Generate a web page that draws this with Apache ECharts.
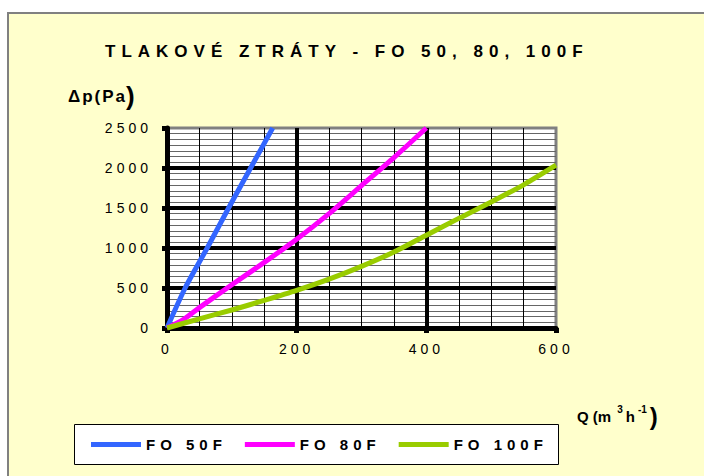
<!DOCTYPE html>
<html><head><meta charset="utf-8">
<script src="https://cdn.jsdelivr.net/npm/echarts@6/dist/echarts.min.js"></script>
<style>
html,body{margin:0;padding:0;background:#fff;}
#c{width:704px;height:476px;}
text[style*="ttlx"]{letter-spacing:6px;}
text[style*="tckx"]{letter-spacing:4px;}
text[style*="lgdx"]{letter-spacing:5px;}
text[style*="dpx"]{letter-spacing:2px;}
</style></head><body><div id="c"></div>
<script>
const titleText = 'TLAKOVÉ ZTRÁTY - FO 50, 80, 100F';
const seriesNames = ['FO 50F', 'FO 80F', 'FO 100F'];
const seriesColors = ['#3366FF', '#FF00FF', '#99CC00'];
const fo50Q = [0, 28, 62, 95, 129, 163];
const fo50Dp = [0, 500, 1000, 1500, 2000, 2500];
const fo80Q = [0, 25, 50, 100, 150, 200, 250, 300, 350, 400];
const fo80Dp = [0, 105, 255, 540, 820, 1110, 1430, 1780, 2130, 2500];
const fo100Q = [0, 50, 100, 150, 200, 250, 300, 350, 400, 450, 500, 550, 600];
const fo100Dp = [0, 115, 225, 345, 470, 610, 770, 950, 1160, 1370, 1575, 1790, 2035];
const xTicks = [0, 200, 400, 600];
const yTicks = [0, 500, 1000, 1500, 2000, 2500];

const pairs = (xs, ys) => xs.map((x, i) => [x, ys[i]]);
const seriesData = [pairs(fo50Q, fo50Dp), pairs(fo80Q, fo80Dp), pairs(fo100Q, fo100Dp)];

const chart = echarts.init(document.getElementById('c'), null, {renderer: 'svg'});
const tickFont = {fontFamily: 'Liberation Sans, tckx', fontSize: 14, color: '#000', formatter: v => String(v)};
const bold = 'Liberation Sans';

chart.setOption({
  animation: false,
  backgroundColor: '#fff',
  title: {
    text: titleText, left: 105, top: 43, padding: 0,
    textStyle: {fontFamily: 'Liberation Sans, ttlx', fontWeight: 'bold', fontSize: 17, color: '#000'}
  },
  grid: {
    left: 167, top: 128, width: 389, height: 200,
    show: true, backgroundColor: '#fff', borderColor: '#808080', borderWidth: 3
  },
  xAxis: {
    type: 'value', min: xTicks[0], max: xTicks[xTicks.length - 1], interval: xTicks[1] - xTicks[0],
    axisLine: {show: true, onZero: false, lineStyle: {color: '#000', width: 5}},
    axisTick: {show: true, length: 5, lineStyle: {color: '#000', width: 5}},
    axisLabel: Object.assign({margin: 14}, tickFont),
    splitLine: {show: true, showMinLine: false, showMaxLine: false, lineStyle: {color: '#000', width: 4}},
    minorTick: {show: false, splitNumber: 4},
    minorSplitLine: {show: true, lineStyle: {color: '#000', width: 1}}
  },
  yAxis: {
    type: 'value', min: yTicks[0], max: yTicks[yTicks.length - 1], interval: yTicks[1] - yTicks[0],
    axisLine: {show: true, onZero: false, lineStyle: {color: '#000', width: 5}},
    axisTick: {show: true, length: 5, lineStyle: {color: '#000', width: 5}},
    axisLabel: Object.assign({margin: 15}, tickFont),
    splitLine: {show: true, showMinLine: false, showMaxLine: false, lineStyle: {color: '#000', width: 4}},
    minorTick: {show: false, splitNumber: 7},
    minorSplitLine: {show: true, lineStyle: {color: '#666', width: 1}}
  },
  legend: {
    data: seriesNames, left: 91, top: 437, padding: 0, orient: 'horizontal',
    itemWidth: 50, itemHeight: 5, itemGap: 48, icon: 'rect',
    textStyle: {fontFamily: 'Liberation Sans, lgdx', fontWeight: 'bold', fontSize: 15, color: '#000'}
  },
  graphic: [
    {type: 'rect', z: -100, silent: true, shape: {x: 8, y: 13, width: 720, height: 480},
     style: {fill: '#FFFFCC', stroke: '#808080', lineWidth: 2}},
    {type: 'rect', z: 1, silent: true, shape: {x: 74.5, y: 424.5, width: 484, height: 40},
     style: {fill: '#fff', stroke: '#000', lineWidth: 1}},
    {type: 'text', z: 5, silent: true, x: 68, y: 96,
     style: {text: '{a|Δp(Pa}{b|)}', verticalAlign: 'middle', textVerticalAlign: 'middle', align: 'left',
       rich: {a: {fontFamily: bold + ', dpx', fontWeight: 'bold', fontSize: 17, fill: '#000', color: '#000'},
              b: {fontFamily: bold, fontWeight: 'bold', fontSize: 26, padding: [0, 0, 0, 9], fill: '#000', color: '#000'}}}},
    {type: 'text', z: 5, silent: true, x: 577, y: 416,
     style: {text: '{a|Q (m}{s|3}{h|h}{t|-1}{b|)}', verticalAlign: 'middle', textVerticalAlign: 'middle', align: 'left',
       rich: {a: {fontFamily: bold, fontWeight: 'bold', fontSize: 15, fill: '#000', color: '#000'},
              h: {fontFamily: bold, fontWeight: 'bold', fontSize: 15, padding: [0, 0, 0, 3], fill: '#000', color: '#000'},
              s: {fontFamily: bold, fontWeight: 'bold', fontSize: 10, lineHeight: 15, verticalAlign: 'top', padding: [0, 0, 0, 6], fill: '#000', color: '#000'},
              t: {fontFamily: bold, fontWeight: 'bold', fontSize: 10, lineHeight: 15, verticalAlign: 'top', padding: [0, 0, 0, 3], fill: '#000', color: '#000'},
              b: {fontFamily: bold, fontWeight: 'bold', fontSize: 24, padding: [0, 0, 0, 3], fill: '#000', color: '#000'}}}}
  ],
  series: seriesNames.map((name, i) => ({
    name: name, type: 'line', data: seriesData[i], smooth: 0.25,
    showSymbol: false, symbol: 'none', color: seriesColors[i],
    lineStyle: {color: seriesColors[i], width: 5}
  }))
});
</script></body></html>
